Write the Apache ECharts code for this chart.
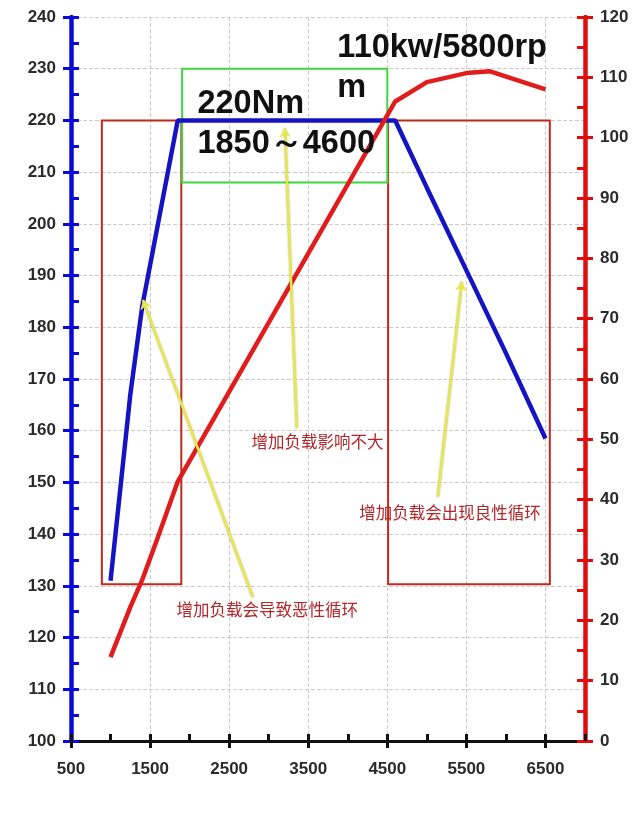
<!DOCTYPE html>
<html>
<head>
<meta charset="utf-8">
<script src="https://cdn.jsdelivr.net/npm/echarts@6/dist/echarts.min.js"></script>
<style>
  html, body { margin: 0; padding: 0; background: #fff; }
  #chart { width: 640px; height: 816px; }
</style>
</head>
<body>
<div id="chart"></div>
<script>
// engine curves
var torqueRpm = [1000, 1250, 1400, 1600, 1850, 4600, 5000, 5500, 6000, 6500];
var torque    = [131, 167, 184, 200, 220, 220, 207, 191, 175, 158.5];

var powerRpm  = [1000, 1250, 1400, 1600, 1850, 4600, 5000, 5500, 5800, 6500];
var power     = [13.9, 22.2, 26.7, 33.8, 43, 106, 109.2, 110.7, 111, 108];

var xTicks      = [500, 7000, 1000];   // min, max, step
var torqueTicks = [100, 240, 10];
var powerTicks  = [0, 120, 10];

// annotation boxes (rpm, torque corners)
var redBoxes   = [[890, 220, 1895, 130.3], [4510, 220, 6555, 130.3]];
var greenBoxes = [[1905, 230, 4500, 208]];

// yellow arrows: from (rpm, torque) to (rpm, torque)
var arrows = [
  [2800, 127.8, 1410, 185.3],
  [3357, 160.5, 3205, 218.5],
  [5139, 147.2, 5442, 188.8]
];

// notes: text, rpm and torque at the left/middle of the text
var bigNotes = [
  ['110kw/5800rp', 3862, 234],
  ['m', 3862, 226.2],
  ['220Nm', 2093, 223.2],
  ['1850～4600', 2093, 215.4]
];
var smallNotes = [
  ['增加负载影响不大', 2775, 157.8],
  ['增加负载会出现良性循环', 4140, 144.1],
  ['增加负载会导致恶性循环', 1827, 125.3]
];

var labelFont = {
  fontFamily: 'Liberation Sans, Arial, sans-serif',
  fontWeight: 'bold',
  fontSize: 17,
  color: '#2a2a2a',
  formatter: function (v) { return String(v); }
};

function pairs(xs, ys) {
  return xs.map(function (x, i) { return [x, ys[i]]; });
}

function noteItem(n, size, bold, color) {
  return {
    coord: [n[1], n[2]],
    label: {
      show: true,
      formatter: n[0],
      position: 'right',
      distance: 0,
      fontSize: size,
      fontWeight: bold ? 'bold' : 'normal',
      fontFamily: bold ? 'Liberation Sans, Arial, sans-serif' : 'Noto Sans CJK SC, sans-serif',
      color: color
    }
  };
}

var markNotes = bigNotes.map(function (n) { return noteItem(n, 32.5, true, '#111'); })
  .concat(smallNotes.map(function (n) { return noteItem(n, 16.5, false, '#b3262a'); }));

var boxData = redBoxes.map(function (b) {
  return [{ coord: [b[0], b[1]], itemStyle: { color: 'rgba(0,0,0,0)', borderColor: '#c02a1e', borderWidth: 2 } },
          { coord: [b[2], b[3]] }];
}).concat(greenBoxes.map(function (b) {
  return [{ coord: [b[0], b[1]], itemStyle: { color: 'rgba(0,0,0,0)', borderColor: '#3fd63f', borderWidth: 2 } },
          { coord: [b[2], b[3]] }];
}));

var arrowData = arrows.map(function (a) {
  return [{ coord: [a[0], a[1]] }, { coord: [a[2], a[3]] }];
});

function yAxisBase(ticks, pos, color, inner, step) {
  return {
    type: 'value',
    position: pos,
    min: ticks[0],
    max: ticks[1],
    interval: step,
    axisLine: { show: !inner, lineStyle: { color: color, width: 4.5 } },
    axisTick: { show: true, inside: inner, length: 8, lineStyle: { color: color, width: 3 } },
    axisLabel: inner ? { show: false } : Object.assign({ margin: 15 }, labelFont),
    splitLine: { show: !inner && pos === 'left', lineStyle: { type: 'dashed', color: '#cccccc' } }
  };
}

var chart = echarts.init(document.getElementById('chart'));

var option = {
  animation: false,
  backgroundColor: '#ffffff',
  grid: { left: 71, right: 55, top: 17, bottom: 75 },
  xAxis: [{
    type: 'value',
    position: 'bottom',
    min: xTicks[0],
    max: xTicks[1],
    interval: xTicks[2],
    axisLine: { lineStyle: { color: '#111', width: 3 } },
    axisTick: { length: 7, lineStyle: { color: '#111', width: 3 } },
    axisLabel: Object.assign({ margin: 20, showMaxLabel: false }, labelFont),
    splitLine: { show: true, lineStyle: { type: 'dashed', color: '#cccccc' } }
  }, {
    type: 'value',
    position: 'bottom',
    min: xTicks[0],
    max: xTicks[1],
    interval: xTicks[2] / 2,
    axisLine: { show: false },
    axisTick: { inside: true, length: 7, lineStyle: { color: '#111', width: 3 } },
    axisLabel: { show: false },
    splitLine: { show: false }
  }],
  yAxis: [
    yAxisBase(torqueTicks, 'left', '#0a0ad8', false, torqueTicks[2]),
    yAxisBase(powerTicks, 'right', '#e00d0d', false, powerTicks[2]),
    yAxisBase(torqueTicks, 'left', '#0a0ad8', true, torqueTicks[2] / 2),
    yAxisBase(powerTicks, 'right', '#e00d0d', true, powerTicks[2] / 2)
  ],
  series: [{
    name: 'torque',
    type: 'line',
    yAxisIndex: 0,
    z: 3,
    symbol: 'none',
    data: pairs(torqueRpm, torque),
    lineStyle: { color: '#1414c4', width: 4.5 },
    markArea: { silent: true, z: 1, data: boxData }
  }, {
    name: 'power',
    type: 'line',
    yAxisIndex: 1,
    z: 4,
    symbol: 'none',
    data: pairs(powerRpm, power),
    lineStyle: { color: '#e01c1c', width: 4.5 }
  }, {
    name: 'notes',
    type: 'line',
    yAxisIndex: 0,
    z: 6,
    symbol: 'none',
    data: [],
    markLine: {
      silent: true,
      z: 6,
      symbol: ['none', 'arrow'],
      symbolSize: 9,
      label: { show: false },
      lineStyle: { color: '#e8e84c', width: 2.5, type: 'solid', shadowColor: 'rgba(80,80,0,0.45)', shadowBlur: 2 },
      data: arrowData
    },
    markPoint: {
      silent: true,
      z: 7,
      symbol: 'circle',
      symbolSize: 1,
      itemStyle: { color: 'rgba(0,0,0,0)' },
      data: markNotes
    }
  }]
};

chart.setOption(option);
</script>
</body>
</html>
